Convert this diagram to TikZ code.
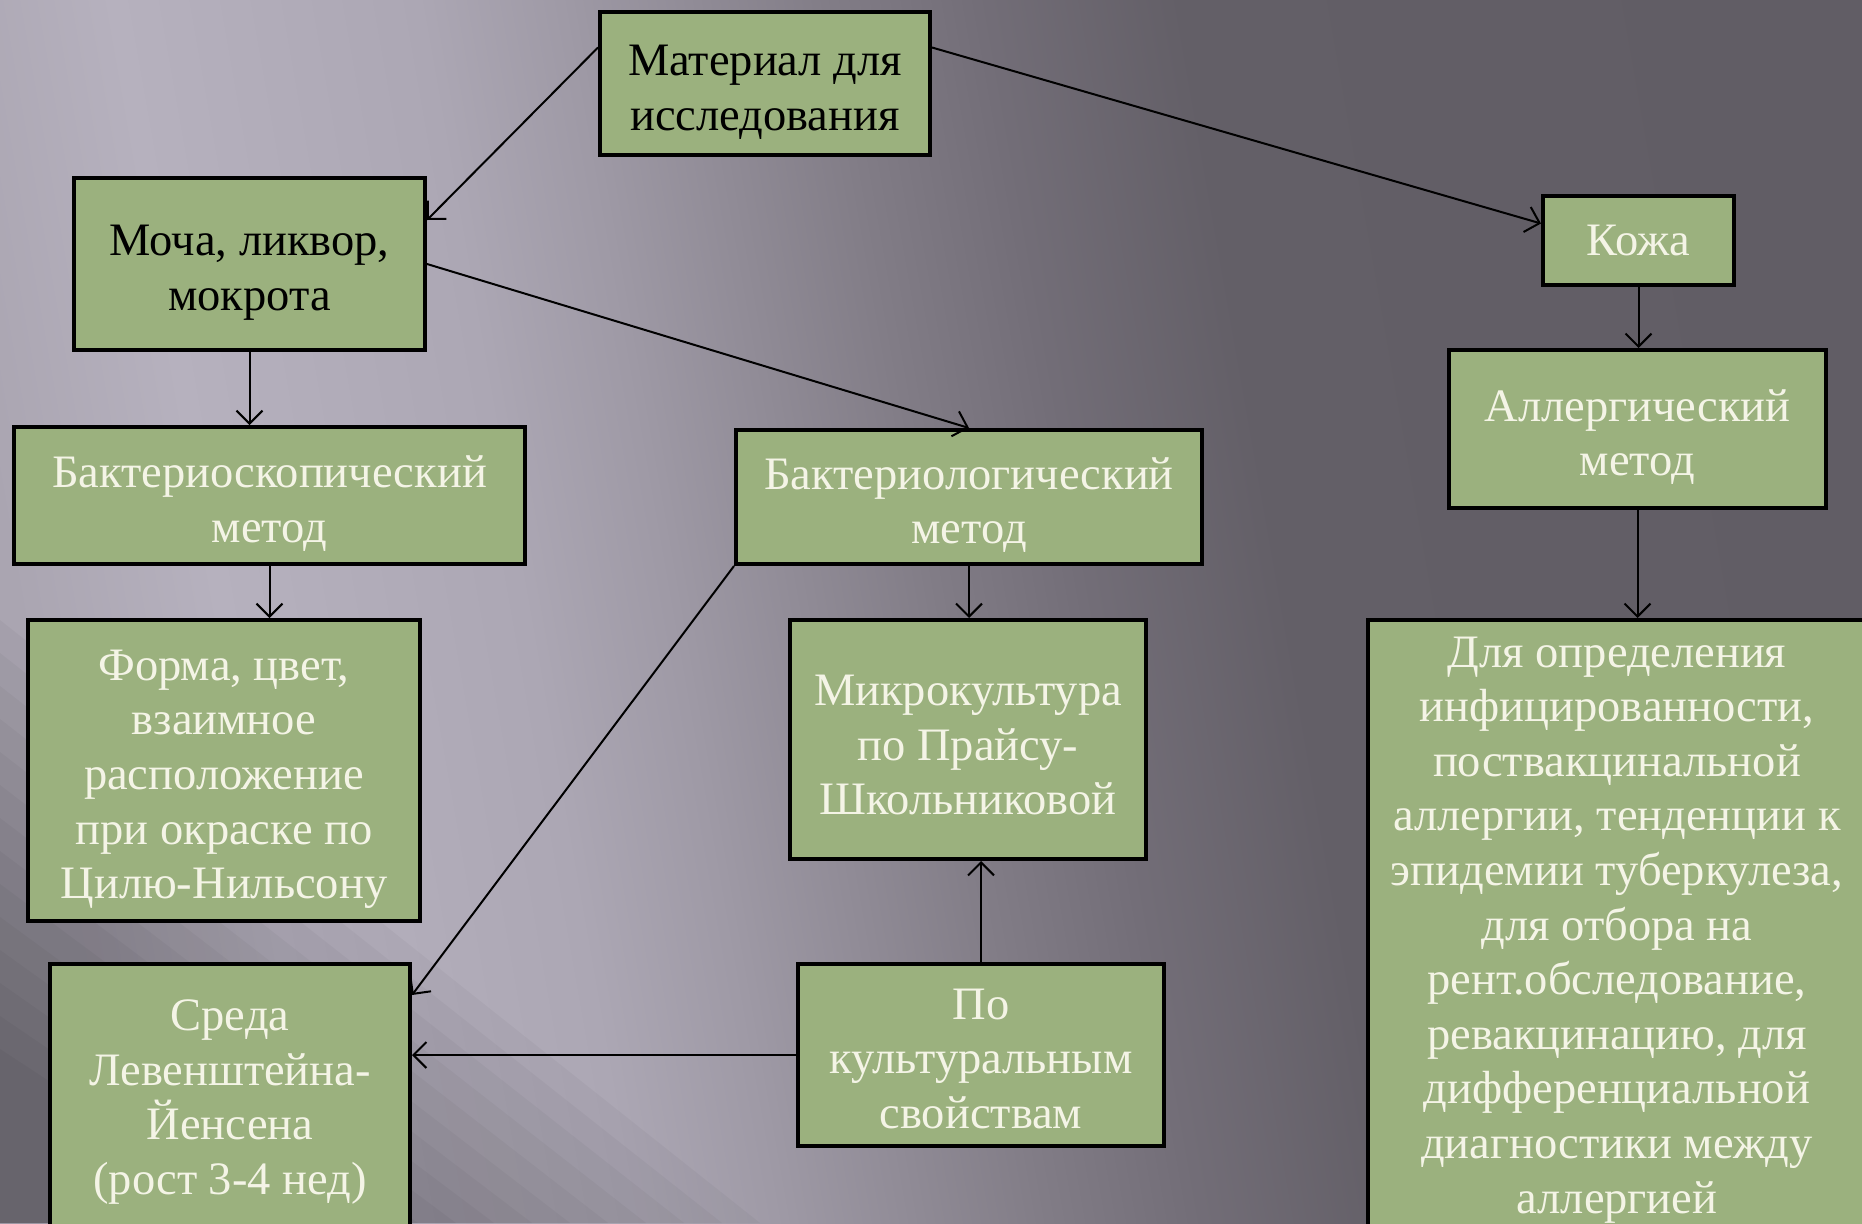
\documentclass[tikz,border=0pt]{standalone}
\usepackage{fontspec}
\setmainfont{Liberation Serif}
\usetikzlibrary{arrows.meta,calc}
\definecolor{boxgreen}{RGB}{155,177,126}
\definecolor{txtlight}{RGB}{244,244,230}
\definecolor{bgA}{RGB}{170,165,177}
\definecolor{bgB}{RGB}{182,177,190}
\definecolor{bgC}{RGB}{172,167,180}
\definecolor{bgD}{RGB}{158,153,165}
\definecolor{bgE}{RGB}{130,125,135}
\definecolor{bgF}{RGB}{115,110,120}
\definecolor{bgG}{RGB}{99,95,103}
\definecolor{bgH}{RGB}{94,90,98}
\newcommand{\firstline}[1]{\rule{0pt}{#1pt}}
\begin{document}
\begin{tikzpicture}[x=1pt,y=-1pt,
  box/.style={draw=black, line width=4pt, fill=boxgreen, align=center, inner sep=0pt,
    font=\fontsize{46.5}{54.6}\selectfont, text=txtlight},
  darktext/.style={text=black},
  conn/.style={draw=black, line width=2pt, -{Straight Barb[length=13pt,width=26pt]}}]
\useasboundingbox (0,0) rectangle (1862,1223);
\clip (0,0) rectangle (1862,1223);
% background: piecewise linear gradient along an axis tilted 10 degrees
\begin{scope}[transform canvas={shift={(931,611.5)}, rotate=10}]
  \fill[bgA] (-1800,-1500) rectangle (-899,1500);
  \shade[left color=bgA, right color=bgB] (-900,-1500) rectangle (-699,1500);
  \shade[left color=bgB, right color=bgC] (-700,-1500) rectangle (-399,1500);
  \shade[left color=bgC, right color=bgD] (-400,-1500) rectangle (-249,1500);
  \shade[left color=bgD, right color=bgE] (-250,-1500) rectangle (1,1500);
  \shade[left color=bgE, right color=bgF] (0,-1500) rectangle (151,1500);
  \shade[left color=bgF, right color=bgG] (150,-1500) rectangle (351,1500);
  \shade[left color=bgG, right color=bgH] (350,-1500) rectangle (1800,1500);
\end{scope}
% darker lower-left corner
\foreach \i in {0,...,13}
  \fill[black, opacity=0.03] (0,{620+33*\i}) -- ({760-38*\i},1223) -- (0,1223) -- cycle;

% nodes
\node[box, darktext, minimum width=330, minimum height=143] (mat) at (765,83.5)
  {\firstline{48}Материал для\\исследования};
\node[box, darktext, minimum width=351, minimum height=172] (mocha) at (249.5,264)
  {\firstline{48}Моча, ликвор,\\мокрота};
\node[box, minimum width=191, minimum height=89] (kozha) at (1638.5,240.5) {Кожа};
\node[box, minimum width=377, minimum height=158] (allerg) at (1637.5,429)
  {\firstline{48}Аллергический\\метод};
\node[box, minimum width=511, minimum height=137] (bscop) at (269.5,495.5)
  {\firstline{48}Бактериоскопический\\метод};
\node[box, minimum width=466, minimum height=134] (blog) at (969,497)
  {\firstline{48}Бактериологический\\метод};
\node[box, minimum width=392, minimum height=301] (forma) at (224,770.5)
  {\firstline{48}Форма, цвет,\\взаимное\\расположение\\при окраске по\\Цилю-Нильсону};
\node[box, minimum width=356, minimum height=239] (mikro) at (968,739.5)
  {\firstline{42}Микрокультура\\по Прайсу-\\Школьниковой};
\node[box, minimum width=366, minimum height=182] (po) at (981,1055)
  {\firstline{38}По\\культуральным\\свойствам};
\node[box, minimum width=360, minimum height=264] (sreda) at (230,1096)
  {\firstline{43}Среда\\Левенштейна-\\Йенсена\\(рост 3-4 нед)};
\node[box, minimum width=498, minimum height=612] (dlya) at (1617,926)
  {\firstline{38}Для определения\\инфицированности,\\поствакцинальной\\аллергии, тенденции к\\эпидемии туберкулеза,\\для отбора на\\рент.обследование,\\ревакцинацию, для\\дифференциальной\\диагностики между\\аллергией};

% connectors
\draw[conn] ([yshift=36pt]mat.west) -- ([yshift=44pt]mocha.east);
\draw[conn] ([yshift=36pt]mat.east) -- ([yshift=17pt]kozha.west);
\draw[conn] (mocha.east) -- (blog.north);
\draw[conn] (mocha.south) -- (mocha.south |- bscop.north);
\draw[conn] (bscop.south) -- (bscop.south |- forma.north);
\draw[conn] (blog.south) -- (blog.south |- mikro.north);
\draw[conn] (blog.south west) -- ([yshift=-33pt]sreda.north east);
\draw[conn] (po.north) -- (po.north |- mikro.south);
\draw[conn] (po.west) -- (po.west -| sreda.east);
\draw[conn] (kozha.south) -- (kozha.south |- allerg.north);
\draw[conn] (allerg.south) -- (allerg.south |- dlya.north);
\end{tikzpicture}
\end{document}
